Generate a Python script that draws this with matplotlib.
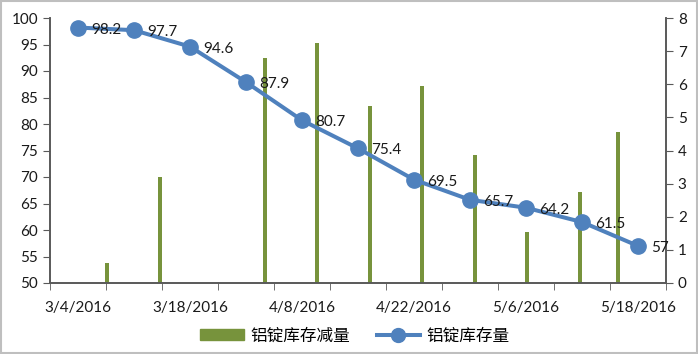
import matplotlib
matplotlib.use("Agg")
import matplotlib.pyplot as plt
from matplotlib.lines import Line2D
from matplotlib.patches import Patch

plt.rcParams['font.family'] = ['Lato', 'Noto Sans CJK SC', 'DejaVu Sans']

# Data
dates = ["3/4/2016", "", "3/18/2016", "", "4/8/2016", "", "4/22/2016", "", "5/6/2016", "", "5/18/2016"]
stock = [98.2, 97.7, 94.6, 87.9, 80.7, 75.4, 69.5, 65.7, 64.2, 61.5, 57]
bar_pos = [0.52, 1.46, 3.34, 4.27, 5.21, 6.14, 7.09, 8.02, 8.96, 9.64]
decrease = [0.6, 3.2, 6.8, 7.25, 5.35, 5.95, 3.85, 1.55, 2.75, 4.55]
label_bar = "铝锭库存减量"
label_line = "铝锭库存量"

line_color = "#4F81BD"
bar_color = "#77933C"
axis_color = "#595959"

fig = plt.figure(figsize=(6.98, 3.54), dpi=100)
ax = fig.add_axes([50/698, 1-283/354, 616/698, 265/354])
ax2 = ax.twinx()

x = list(range(len(stock)))
ax2.bar(bar_pos, decrease, width=0.07, color=bar_color, zorder=1)
ax.plot(x, stock, color=line_color, lw=2.9, marker='o', ms=11, zorder=3)
ax.set_zorder(ax2.get_zorder() + 1)
ax.patch.set_visible(False)

for xi, v in zip(x, stock):
    ax.annotate(f"{v:g}", (xi, v), xytext=(9.5, -1.5), textcoords='offset points',
                ha='left', va='center', fontsize=11, color='#1a1a1a', zorder=4)

ax.set_xlim(-0.5, 10.5)
ax.set_ylim(50, 100)
ax2.set_ylim(0, 8)
ax.set_yticks(range(50, 101, 5))
ax2.set_yticks(range(0, 9))

ax.set_xticks(x)
ax.set_xticklabels(dates, fontsize=11)
ax.set_xticks([i - 0.5 for i in range(12)], minor=True)
ax.tick_params(axis='x', which='major', length=0, pad=13, colors='#1a1a1a')
ax.tick_params(axis='x', which='minor', length=5, direction='out', color=axis_color)
ax.tick_params(axis='y', length=5, direction='out', color=axis_color, labelsize=11, labelcolor='#1a1a1a')
ax2.tick_params(axis='y', length=5, direction='out', color=axis_color, labelsize=11, labelcolor='#1a1a1a')

for a in (ax, ax2):
    a.spines['top'].set_visible(False)
    for s in ('left', 'right', 'bottom'):
        a.spines[s].set_color(axis_color)
        a.spines[s].set_linewidth(1.2)

handles = [Patch(facecolor=bar_color, edgecolor=bar_color),
           Line2D([0], [0], color=line_color, lw=2.9, marker='o', ms=10)]
fig.legend(handles, [label_bar, label_line], loc='center', bbox_to_anchor=(355/698, 1-336/354),
           ncol=2, frameon=False, handlelength=2.6, handleheight=0.6, handletextpad=0.4,
           columnspacing=1.6,
           prop={'family': ['Noto Sans CJK SC', 'DejaVu Sans'], 'size': 12})

fig.patches.append(plt.Rectangle((0.002, 0.003), 0.996, 0.994, transform=fig.transFigure,
                                 fill=False, edgecolor='#bfbfbf', lw=1.5))

fig.savefig("out.png", dpi=100)
